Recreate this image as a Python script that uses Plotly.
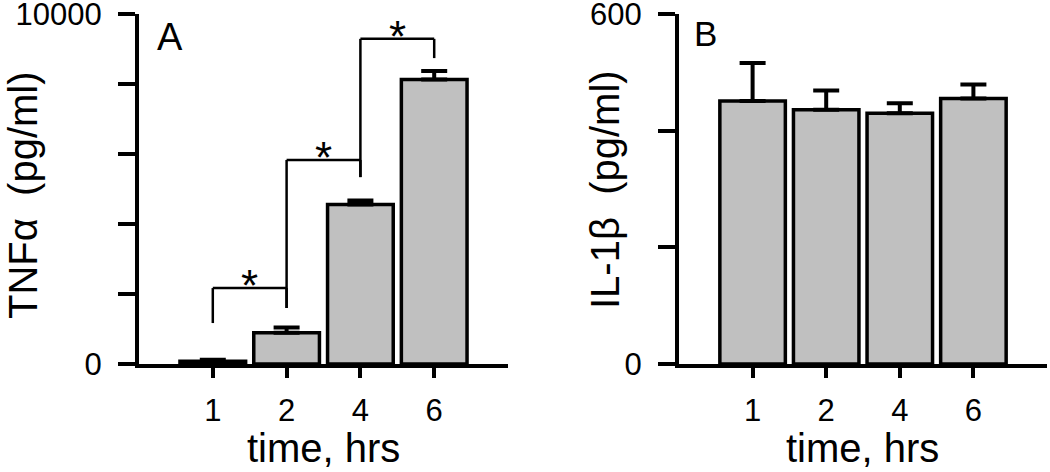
import plotly.graph_objects as go
from plotly.subplots import make_subplots

# datos
horas = ["1", "2", "4", "6"]
tnf_media = [80, 890, 4560, 8130]
tnf_error = [40, 150, 115, 240]
il1b_media = [451, 436, 430, 455]
il1b_error = [65, 33, 17, 24]

# corchetes de significancia (panel A): extremo inferior de cada brazo y altura del corchete
brazo_bajo = [1170, 1600, 5340, 8740]
corchete_alto = [2170, 5830, 9290]

W, H = 1050, 472
FUENTE = "Liberation Sans, Arial, sans-serif"
GRIS = "#c0c0c0"


def px_x(v):
    return v / W


def px_y(v):
    return 1 - v / H


fig = make_subplots(rows=1, cols=2)

fig.add_trace(go.Bar(x=horas, y=tnf_media, width=0.89,
                     marker=dict(color=GRIS, line=dict(color="black", width=3.5)),
                     error_y=dict(type="data", array=tnf_error, symmetric=False,
                                  arrayminus=[0] * 4, color="black", thickness=4, width=13)),
              row=1, col=1)
fig.add_trace(go.Bar(x=horas, y=il1b_media, width=0.89,
                     marker=dict(color=GRIS, line=dict(color="black", width=3.5)),
                     error_y=dict(type="data", array=il1b_error, symmetric=False,
                                  arrayminus=[0] * 4, color="black", thickness=4, width=13)),
              row=1, col=2)

ejes_x = dict(type="category", range=[-1, 4], showline=True, linewidth=4, linecolor="black",
              ticks="outside", ticklen=10, tickwidth=4, tickcolor="black", automargin=False,
              ticklabelstandoff=6, showgrid=False, zeroline=False, ticklabeloverflow="allow",
              tickfont=dict(family=FUENTE, size=31, color="black"))
ejes_y = dict(showline=True, linewidth=4, linecolor="black", ticks="outside", ticklen=17,
              tickwidth=4, tickcolor="black", showgrid=False, zeroline=False, automargin=False,
              ticklabelstandoff=10, ticklabeloverflow="allow",
              tickfont=dict(family=FUENTE, size=31, color="black"))

fig.update_xaxes(ejes_x)
fig.update_yaxes(ejes_y)
fig.update_xaxes(domain=[px_x(139), px_x(508)], row=1, col=1)
fig.update_xaxes(domain=[px_x(679), px_x(1047)], row=1, col=2)
fig.update_yaxes(domain=[px_y(364), px_y(14)], range=[0, 10000],
                 tickvals=[0, 2000, 4000, 6000, 8000, 10000],
                 ticktext=["0", "", "", "", "", "10000"], row=1, col=1)
fig.update_yaxes(domain=[px_y(364), px_y(14)], range=[0, 600],
                 tickvals=[0, 200, 400, 600], ticktext=["0", "", "", "600"], row=1, col=2)

# corchetes con asterisco
for i, alto in enumerate(corchete_alto):
    fig.add_shape(type="line", xref="x", yref="y", x0=i, x1=i, y0=brazo_bajo[i], y1=alto,
                  line=dict(color="black", width=2.5))
    fig.add_shape(type="line", xref="x", yref="y", x0=i, x1=i + 1, y0=alto, y1=alto,
                  line=dict(color="black", width=2.5))
    fig.add_shape(type="line", xref="x", yref="y", x0=i + 1, x1=i + 1, y0=alto, y1=brazo_bajo[i + 1],
                  line=dict(color="black", width=2.5))
    fig.add_annotation(x=i + 0.5, y=alto, xref="x", yref="y", text="*", showarrow=False,
                       yanchor="bottom", yshift=-24, font=dict(family=FUENTE, size=44, color="black"))

textos = [
    dict(text="TNF\u03b1  (pg/ml)", x=px_x(23), y=px_y(195), textangle=-90, size=40),
    dict(text="IL-1\u03b2  (pg/ml)", x=px_x(605), y=px_y(190), textangle=-90, size=40),
    dict(text="time, hrs", x=px_x(323), y=px_y(448), textangle=0, size=40),
    dict(text="time, hrs", x=px_x(862), y=px_y(448), textangle=0, size=40),
    dict(text="A", x=px_x(170), y=px_y(37), textangle=0, size=38),
    dict(text="B", x=px_x(705), y=px_y(33), textangle=0, size=35),
]
for t in textos:
    fig.add_annotation(text=t["text"], x=t["x"], y=t["y"], xref="paper", yref="paper",
                       xanchor="center", yanchor="middle", textangle=t["textangle"],
                       showarrow=False, font=dict(family=FUENTE, size=t["size"], color="black"))

fig.update_layout(width=W, height=H, margin=dict(l=0, r=0, t=0, b=0),
                  plot_bgcolor="white", paper_bgcolor="white", showlegend=False,
                  font=dict(family=FUENTE, color="black"))

# quitar el margen por defecto del body para que la figura quede en (0, 0)
fig.write_html("out.html", config={"displayModeBar": False},
               post_script="document.body.style.margin='0';")
